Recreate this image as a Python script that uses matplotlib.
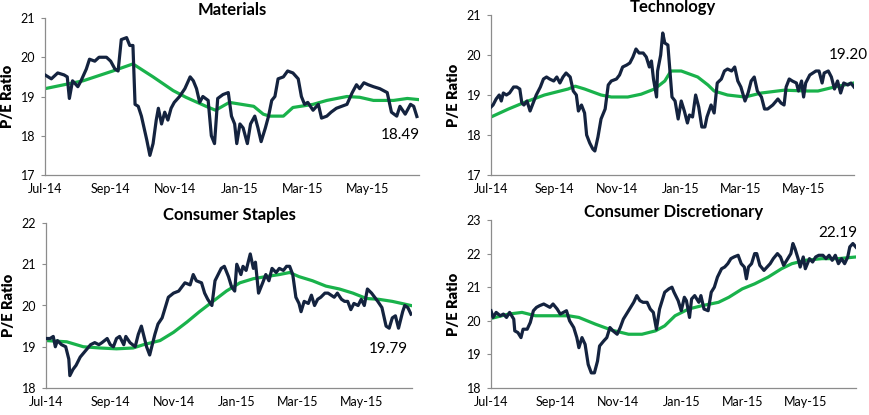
import numpy as np
import pandas as pd
import matplotlib
matplotlib.use("Agg")
import matplotlib.pyplot as plt
import matplotlib.dates as mdates

plt.rcParams['font.family'] = ['Lato', 'DejaVu Sans']

start = pd.Timestamp('2014-07-01')
end = pd.Timestamp('2015-06-19')

# day offsets from Jul 1 2014 and P/E values
mat_days = [0, 6, 12, 18, 21, 23, 26, 31, 34, 39, 42, 47, 51, 58, 62, 66, 69, 72, 77, 80, 83, 85, 88, 91, 96, 99,
            102, 105, 107, 110, 113, 116, 119, 122, 127, 132, 137, 140, 143, 146, 149, 154, 157, 160, 163, 168,
            173, 176, 179, 181, 184, 187, 191, 194, 198, 201, 204, 208, 211, 214, 217, 220, 225, 229, 234, 239,
            242, 245, 248, 253, 258, 261, 266, 270, 275, 280, 285, 290, 294, 297, 301, 305, 310, 316, 323, 327,
            332, 335, 340, 345, 348, 351]
mat_pe = [19.55, 19.45, 19.6, 19.55, 19.5, 18.95, 19.4, 19.25, 19.4, 19.7, 19.95, 19.9, 20.0, 20.0, 19.9, 19.7,
          19.65, 20.45, 20.5, 20.3, 20.3, 18.8, 18.75, 18.5, 17.9, 17.5, 17.8, 18.4, 18.7, 18.3, 18.6, 18.4, 18.7,
          18.85, 19.0, 19.2, 19.5, 19.4, 19.2, 18.85, 19.0, 18.9, 18.0, 17.8, 18.95, 19.05, 19.1, 18.5, 18.3,
          17.8, 18.3, 18.2, 17.8, 18.3, 18.5, 18.2, 17.85, 18.2, 18.5, 18.9, 19.0, 19.45, 19.5, 19.65, 19.6,
          19.45, 19.0, 18.8, 18.85, 18.65, 18.8, 18.45, 18.5, 18.6, 18.7, 18.75, 18.8, 19.1, 19.3, 19.2, 19.35,
          19.3, 19.25, 19.2, 19.1, 18.6, 18.5, 18.75, 18.55, 18.8, 18.75, 18.49]
mat_ma_days = [0, 36, 64, 83, 102, 121, 133, 152, 161, 174, 197, 206, 212, 225, 234, 253, 266, 285, 297, 310,
               329, 342, 353]
mat_ma = [19.2, 19.4, 19.65, 19.83, 19.5, 19.15, 18.98, 18.75, 18.65, 18.85, 18.75, 18.55, 18.5, 18.5, 18.72,
          18.8, 18.9, 19.0, 18.98, 18.9, 18.9, 18.95, 18.92]

tech_days = [0, 2, 5, 8, 10, 12, 15, 18, 22, 25, 28, 30, 32, 35, 38, 41, 44, 48, 51, 54, 57, 61, 64, 67, 70, 73,
             77, 80, 83, 85, 88, 91, 93, 96, 99, 101, 104, 107, 111, 114, 117, 122, 125, 128, 132, 135, 138, 141,
             144, 148, 151, 154, 156, 158, 161, 162, 165, 167, 169, 172, 174, 176, 179, 182, 185, 188, 191, 193,
             196, 199, 202, 205, 208, 210, 214, 217, 220, 224, 227, 230, 234, 237, 240, 243, 247, 250, 253, 256,
             259, 263, 266, 269, 274, 279, 282, 285, 287, 290, 293, 297, 299, 302, 304, 306, 310, 313, 316, 319,
             322, 324, 328, 331, 334, 337, 340, 343, 347, 350, 353]
tech_pe = [18.7, 18.75, 18.9, 19.0, 18.85, 19.05, 19.0, 19.05, 19.2, 19.2, 19.15, 18.8, 18.75, 18.85, 18.6, 18.8,
           19.0, 19.2, 19.4, 19.45, 19.4, 19.35, 19.45, 19.3, 19.45, 19.55, 19.45, 19.1, 19.0, 18.6, 18.75, 18.55,
           18.0, 17.8, 17.65, 17.6, 17.95, 18.4, 18.65, 19.25, 19.35, 19.4, 19.5, 19.7, 19.75, 19.8, 19.95, 20.15,
           20.05, 20.05, 19.95, 19.7, 19.85, 19.4, 18.95, 19.6, 20.0, 20.55, 20.3, 20.25, 19.6, 18.95, 18.85, 18.4,
           18.85, 18.6, 18.3, 18.5, 18.45, 19.0, 18.7, 18.2, 18.2, 18.45, 18.75, 18.55, 19.3, 19.4, 19.6, 19.65,
           19.6, 19.7, 19.35, 19.2, 18.85, 19.05, 19.35, 19.45, 19.1, 18.95, 18.65, 18.65, 18.75, 18.9, 18.8,
           18.75, 19.2, 19.4, 19.35, 19.3, 19.1, 19.35, 18.95, 19.3, 19.5, 19.55, 19.6, 19.6, 19.3, 19.55, 19.6,
           19.45, 19.15, 19.35, 19.05, 19.3, 19.25, 19.3, 19.2]
tech_ma_days = [0, 17, 33, 52, 75, 82, 91, 107, 117, 133, 146, 159, 169, 175, 185, 201, 211, 217, 230, 247, 263,
                285, 308, 318, 334, 353]
tech_ma = [18.45, 18.65, 18.82, 19.0, 19.15, 19.22, 19.15, 19.0, 18.95, 18.95, 19.02, 19.15, 19.35, 19.6, 19.6,
           19.45, 19.25, 19.1, 19.0, 18.95, 19.05, 19.12, 19.1, 19.1, 19.2, 19.3]

cs_days = [0, 4, 7, 9, 11, 15, 19, 22, 23, 26, 29, 33, 38, 43, 47, 51, 54, 59, 62, 65, 68, 71, 75, 77, 81, 86,
           89, 92, 95, 97, 100, 103, 105, 108, 112, 115, 118, 123, 128, 131, 134, 139, 142, 145, 150, 153, 156,
           160, 163, 166, 169, 172, 176, 179, 182, 184, 188, 190, 193, 197, 200, 202, 205, 209, 212, 215, 218,
           222, 225, 229, 232, 235, 238, 241, 244, 246, 249, 253, 256, 259, 262, 265, 269, 272, 275, 278, 281,
           285, 288, 291, 294, 297, 301, 304, 307, 310, 314, 317, 320, 324, 328, 331, 334, 337, 340, 344, 346,
           349, 352]
cs_pe = [19.2, 19.2, 19.25, 19.0, 19.15, 19.05, 19.0, 18.7, 18.3, 18.45, 18.55, 18.75, 18.9, 19.05, 19.1, 19.05,
         19.1, 19.2, 19.05, 19.0, 19.2, 19.25, 19.05, 19.25, 19.1, 19.0, 19.3, 19.5, 19.2, 19.0, 18.8, 19.1, 19.3,
         19.55, 19.7, 19.95, 20.2, 20.3, 20.35, 20.45, 20.55, 20.5, 20.75, 20.6, 20.55, 20.3, 20.15, 20.0, 20.6,
         20.75, 20.9, 20.95, 20.7, 20.45, 20.35, 21.0, 20.75, 20.95, 20.85, 21.25, 20.9, 21.05, 20.3, 20.55,
         20.75, 20.6, 20.9, 20.8, 20.9, 20.85, 20.95, 20.95, 20.75, 20.2, 20.05, 19.85, 20.1, 20.05, 20.25, 20.0,
         20.15, 20.2, 20.3, 20.3, 20.25, 20.2, 20.3, 20.15, 20.1, 20.1, 19.9, 20.05, 20.0, 20.15, 20.0, 20.4,
         20.3, 20.2, 20.1, 19.95, 19.5, 19.45, 19.7, 19.75, 19.45, 19.85, 20.0, 19.95, 19.79]
cs_ma_days = [0, 20, 36, 52, 68, 84, 94, 110, 123, 136, 148, 161, 174, 187, 200, 212, 225, 235, 244, 257, 270,
              283, 296, 309, 321, 334, 352]
cs_ma = [19.15, 19.12, 19.0, 18.97, 18.95, 18.97, 19.05, 19.15, 19.35, 19.6, 19.85, 20.1, 20.35, 20.55, 20.65,
         20.7, 20.75, 20.8, 20.7, 20.6, 20.47, 20.4, 20.3, 20.17, 20.15, 20.1, 20.0]

cd_days = [0, 2, 5, 9, 12, 15, 18, 22, 23, 26, 29, 31, 35, 38, 41, 44, 47, 51, 54, 57, 60, 64, 67, 70, 73, 76,
           80, 83, 85, 88, 91, 94, 97, 100, 103, 105, 109, 112, 115, 118, 122, 125, 128, 131, 135, 138, 141, 144,
           147, 151, 154, 157, 160, 163, 165, 168, 172, 175, 177, 181, 184, 187, 189, 192, 194, 197, 201, 203,
           206, 210, 213, 216, 219, 223, 226, 229, 232, 235, 239, 242, 245, 247, 249, 252, 255, 257, 260, 264,
           267, 270, 273, 277, 280, 283, 286, 290, 292, 294, 297, 299, 302, 304, 308, 311, 314, 317, 321, 324,
           327, 330, 333, 336, 339, 342, 345, 347, 350, 353]
cd_pe = [20.3, 20.1, 20.25, 20.15, 20.2, 20.1, 20.25, 20.05, 19.7, 19.65, 19.5, 19.75, 19.75, 19.95, 20.3, 20.4,
         20.45, 20.5, 20.45, 20.4, 20.5, 20.35, 20.2, 20.25, 20.3, 20.0, 19.8, 19.5, 19.2, 19.5, 19.3, 18.7,
         18.45, 18.45, 18.8, 19.25, 19.4, 19.5, 19.8, 19.7, 19.6, 19.8, 20.05, 20.2, 20.4, 20.55, 20.75, 20.6,
         20.55, 20.55, 20.35, 20.25, 19.75, 20.35, 20.55, 20.85, 20.95, 21.0, 20.85, 20.6, 20.3, 20.7, 20.6,
         20.1, 20.65, 20.75, 20.55, 20.75, 20.35, 20.3, 20.85, 21.0, 21.3, 21.55, 21.6, 21.7, 21.85, 21.9, 21.95,
         21.7, 21.6, 21.25, 21.6, 21.7, 22.0, 22.0, 21.65, 21.5, 21.6, 21.7, 21.85, 22.0, 21.9, 21.65, 21.8, 22.0,
         22.3, 22.15, 21.85, 21.6, 21.9, 21.55, 21.85, 21.75, 21.9, 21.95, 21.95, 21.85, 21.95, 21.8, 21.95,
         21.7, 21.85, 21.7, 21.9, 22.2, 22.3, 22.19]
cd_ma_days = [0, 17, 30, 43, 75, 85, 101, 117, 133, 146, 159, 168, 178, 191, 204, 220, 230, 243, 255, 268, 281,
              291, 304, 320, 336, 353]
cd_ma = [20.07, 20.2, 20.25, 20.15, 20.15, 20.1, 19.9, 19.72, 19.6, 19.6, 19.7, 19.85, 20.15, 20.35, 20.45,
         20.55, 20.7, 20.95, 21.1, 21.3, 21.55, 21.7, 21.8, 21.85, 21.85, 21.9]

titles = ['Materials', 'Technology', 'Consumer Staples', 'Consumer Discretionary']
ylims = [(17, 21), (17, 21), (18, 22), (18, 23)]

navy = '#14233f'
green = '#19b24b'


def to_dates(days):
    return start + pd.to_timedelta(np.array(days), unit='D')


fig = plt.figure(figsize=(8.69, 4.15), dpi=100)
W, H = 869, 415
# axes boxes in pixels: left, right, top, bottom
boxes = [(45, 419, 18, 175), (491, 854, 15, 175), (46, 412, 223, 388), (491, 856, 220, 388)]
series = [(mat_days, mat_pe, mat_ma_days, mat_ma),
          (tech_days, tech_pe, tech_ma_days, tech_ma),
          (cs_days, cs_pe, cs_ma_days, cs_ma),
          (cd_days, cd_pe, cd_ma_days, cd_ma)]
# label offsets (points) for the last value
label_off = [(2, -13), (10, 23), (-2, -25), (1, 10)]

for i in range(4):
    l, r, t, b = boxes[i]
    ax = fig.add_axes([l / W, 1 - b / H, (r - l) / W, (b - t) / H])
    d, pe, md, ma = series[i]
    ax.plot(to_dates(md), ma, color=green, lw=2.3, zorder=2)
    ax.plot(to_dates(d), pe, color=navy, lw=2.3, zorder=3)
    ax.set_xlim(start, end)
    ax.set_ylim(*ylims[i])
    ax.set_yticks(np.arange(ylims[i][0], ylims[i][1] + 1))
    ax.xaxis.set_major_locator(mdates.MonthLocator(bymonth=[1, 3, 5, 7, 9, 11]))
    ax.xaxis.set_major_formatter(mdates.DateFormatter('%b-%y'))
    for s in ['top', 'right']:
        ax.spines[s].set_visible(False)
    for s in ['left', 'bottom']:
        ax.spines[s].set_color('#8c8c8c')
        ax.spines[s].set_linewidth(0.9)
    ax.tick_params(axis='x', length=0, labelsize=9, pad=6, colors='black')
    ax.tick_params(axis='y', length=3, color='#8c8c8c', labelsize=9, pad=4, labelcolor='black')
    ax.set_title(titles[i], fontsize=12, fontweight='bold', pad=1)
    ax.set_ylabel('P/E Ratio', fontsize=10.5, fontweight='heavy', labelpad=5)
    last = pe[-1]
    ax.annotate('%.2f' % last, xy=(to_dates(d)[-1], last), xytext=label_off[i],
                textcoords='offset points', ha='right', va='center', fontsize=11,
                annotation_clip=False)

fig.savefig('out.png', dpi=100)
